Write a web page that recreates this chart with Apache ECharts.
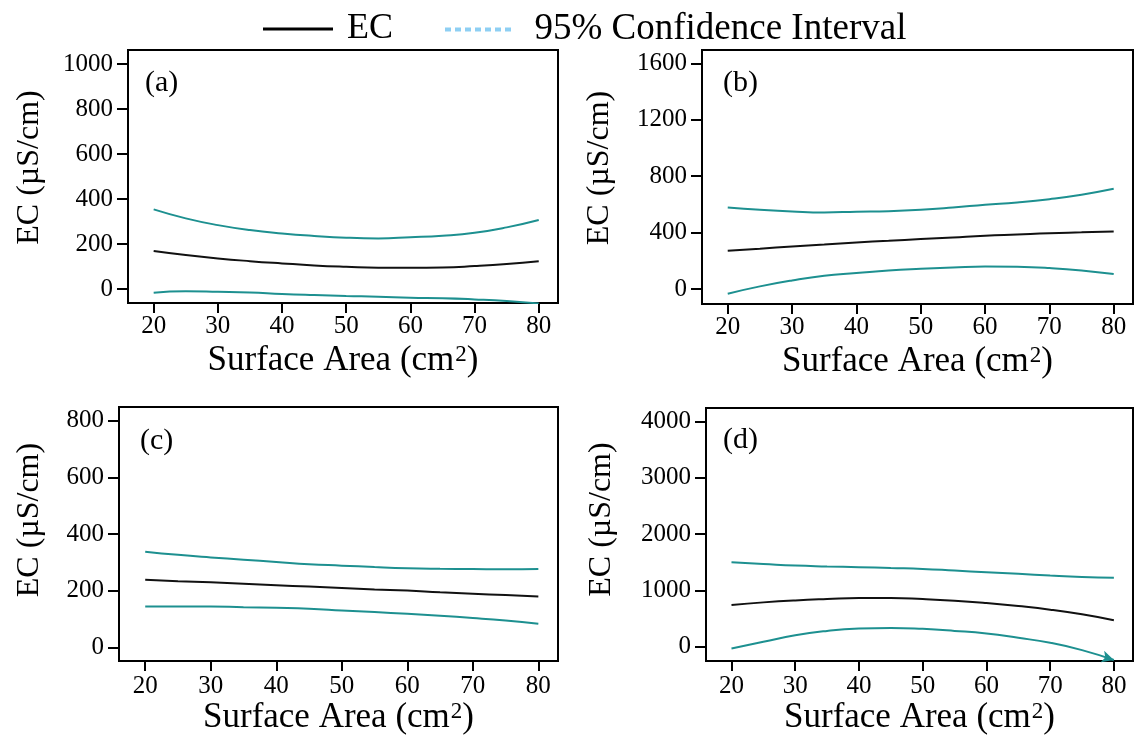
<!DOCTYPE html>
<html><head><meta charset="utf-8">
<script src="https://cdn.jsdelivr.net/npm/echarts@6/dist/echarts.min.js"></script>
<style>html,body{margin:0;padding:0;background:#fff}#c{width:1137px;height:736px}</style>
</head><body><div id="c"></div>
<script>
// ---- data ----
const surfaceArea = [20, 25, 30, 35, 40, 45, 50, 55, 60, 65, 70, 75, 80];
const xTicks = [20, 30, 40, 50, 60, 70, 80];
const panelLabels = ['(a)', '(b)', '(c)', '(d)'];
const legendNames = ['EC', '95% Confidence Interval'];
const xTitle = 'Surface Area (cm{sup|2})';
const yTitle = 'EC (\u00B5S/cm)';

const yTicksA = [0, 200, 400, 600, 800, 1000];
const yTicksB = [0, 400, 800, 1200, 1600];
const yTicksC = [0, 200, 400, 600, 800];
const yTicksD = [0, 1000, 2000, 3000, 4000];

const ecA    = [169, 151, 136, 124, 114, 105, 99, 95, 95, 96, 102, 111, 124];
const upperA = [354, 314, 284, 262, 247, 236, 228, 225, 230, 237, 250, 274, 307];
const lowerA = [-16, -10, -12, -15, -22, -27, -31, -34, -39, -41, -46, -53, -64];

const ecB    = [271, 286, 302, 316, 330, 342, 354, 366, 378, 387, 396, 402, 408];
const upperB = [578, 562, 550, 543, 548, 552, 562, 578, 597, 614, 637, 668, 710];
const lowerB = [-33, 19, 61, 94, 113, 132, 144, 153, 160, 158, 149, 132, 106];

const ecC    = [239, 234, 230, 225, 220, 215, 210, 205, 201, 195, 190, 185, 180];
const upperC = [338, 327, 318, 310, 302, 294, 289, 284, 280, 278, 277, 276, 277];
const lowerC = [145, 145, 145, 142, 140, 137, 131, 125, 119, 112, 104, 95, 84];

const ecD    = [741, 788, 823, 847, 865, 865, 847, 818, 776, 723, 659, 576, 471];
const upperD = [1500, 1470, 1441, 1425, 1412, 1397, 1382, 1353, 1323, 1294, 1265, 1240, 1223];
const lowerD = [-29, 88, 206, 282, 324, 335, 318, 282, 235, 159, 71, -59, -235];

// ---- layout ----
const FONT = 'Liberation Serif';
const panels = [
  { grid: {left: 128, top: 50, width: 430, height: 253}, ymin: -62, ymax: 1062, yTicks: yTicksA,
    ec: ecA, up: upperA, lo: lowerA, lab: {left: 145, top: 68}, nameGapX: 40, labelMarginX: 11, nameGapY: 82, namePadY: 18 },
  { grid: {left: 702, top: 50, width: 431, height: 254}, ymin: -106, ymax: 1694, yTicks: yTicksB,
    ec: ecB, up: upperB, lo: lowerB, lab: {left: 723, top: 68}, nameGapX: 40, labelMarginX: 11, nameGapY: 86, namePadY: 18 },
  { grid: {left: 119, top: 407, width: 439, height: 256}, ymin: -48, ymax: 849, yTicks: yTicksC,
    ec: ecC, up: upperC, lo: lowerC, lab: {left: 140, top: 426}, nameGapX: 35, labelMarginX: 13, nameGapY: 73, namePadY: 28 },
  { grid: {left: 706, top: 408, width: 427, height: 255}, ymin: -254, ymax: 4237, yTicks: yTicksD,
    ec: ecD, up: upperD, lo: lowerD, lab: {left: 723, top: 425}, nameGapX: 35, labelMarginX: 13, nameGapY: 88, namePadY: 30, arrow: true }
];

const EC_COLOR = '#111111';
const CI_COLOR = '#1d9090';
const plain = v => String(v);

const grids = [], xAxes = [], yAxes = [], series = [], titles = [];
panels.forEach((p, i) => {
  grids.push(Object.assign({ show: true, borderColor: '#000', borderWidth: 2, backgroundColor: 'transparent' }, p.grid));
  xAxes.push({
    type: 'value', gridIndex: i, min: 16, max: 83,
    name: xTitle, nameLocation: 'middle', nameGap: p.nameGapX,
    nameTextStyle: { fontFamily: FONT, fontSize: 35, color: '#000',
      rich: { sup: { fontFamily: FONT, fontSize: 23, color: '#000', verticalAlign: 'bottom', padding: [0, 0, 12, 1] } } },
    axisLine: { show: true, onZero: false, lineStyle: { color: '#000', width: 2 } },
    axisTick: { show: true, inside: false, length: 10, customValues: xTicks, lineStyle: { color: '#000', width: 2 } },
    axisLabel: { show: true, customValues: xTicks, formatter: plain, margin: p.labelMarginX, fontFamily: FONT, fontSize: 25, color: '#000' },
    splitLine: { show: false }
  });
  yAxes.push({
    type: 'value', gridIndex: i, min: p.ymin, max: p.ymax,
    name: yTitle, nameLocation: 'middle', nameGap: p.nameGapY, nameRotate: 90,
    nameTextStyle: { fontFamily: FONT, fontSize: 32, color: '#000', padding: [0, 0, 0, p.namePadY] },
    axisLine: { show: true, onZero: false, lineStyle: { color: '#000', width: 2 } },
    axisTick: { show: true, inside: false, length: 11, customValues: p.yTicks, lineStyle: { color: '#000', width: 2 } },
    axisLabel: { show: true, customValues: p.yTicks, formatter: plain, margin: 15, fontFamily: FONT, fontSize: 25, color: '#000' },
    splitLine: { show: false }
  });
  titles.push({ text: panelLabels[i], left: p.lab.left, top: p.lab.top, padding: 0,
    textStyle: { fontFamily: FONT, fontSize: 30, fontWeight: 'normal', color: '#000' } });
  const pts = arr => surfaceArea.map((x, k) => [x, arr[k]]);
  series.push({
    type: 'line', name: legendNames[0], xAxisIndex: i, yAxisIndex: i, data: pts(p.ec),
    smooth: true, showSymbol: false, symbol: 'none', clip: true,
    lineStyle: { color: EC_COLOR, width: 2 }, itemStyle: { color: EC_COLOR }, z: 3
  });
  series.push({
    type: 'line', name: legendNames[1], xAxisIndex: i, yAxisIndex: i, data: pts(p.up),
    smooth: true, showSymbol: false, symbol: 'none', clip: true,
    lineStyle: { color: CI_COLOR, width: 2 }, itemStyle: { color: CI_COLOR }, z: 2
  });
  const last = surfaceArea.length - 1;
  series.push({
    type: 'line', name: legendNames[1], xAxisIndex: i, yAxisIndex: i, data: pts(p.lo),
    smooth: true, clip: true,
    showSymbol: !!p.arrow,
    symbol: p.arrow ? ((v, prm) => prm.dataIndex === last ? 'arrow' : 'none') : 'none',
    symbolSize: [9, 12], symbolRotate: -107,
    lineStyle: { color: CI_COLOR, width: 2 }, itemStyle: { color: CI_COLOR }, z: 2
  });
});

// dotted legend icon: 7 small squares
let dots = 'path://';
for (let k = 0; k < 7; k++) dots += 'M' + (k * 10) + ',0h6v4h-6z';

const option = {
  animation: false,
  backgroundColor: '#fff',
  textStyle: { fontFamily: FONT },
  title: titles,
  legend: [
    { data: [legendNames[0]], left: 258, top: 6, icon: 'rect', itemWidth: 70, itemHeight: 3,
      formatter: ' {name}', selectedMode: false,
      itemStyle: { color: '#000', borderWidth: 0 },
      textStyle: { fontFamily: FONT, fontSize: 36, color: '#000', lineHeight: 36 } },
    { data: [legendNames[1]], left: 440, top: 6, icon: dots, itemWidth: 66, itemHeight: 4,
      formatter: '  {name}', selectedMode: false,
      itemStyle: { color: '#8ecff3', borderWidth: 0 },
      textStyle: { fontFamily: FONT, fontSize: 37, color: '#000', lineHeight: 36 } }
  ],
  grid: grids,
  xAxis: xAxes,
  yAxis: yAxes,
  series: series
};

const chart = echarts.init(document.getElementById('c'), null, { renderer: 'canvas' });
chart.setOption(option);
</script>
</body></html>
